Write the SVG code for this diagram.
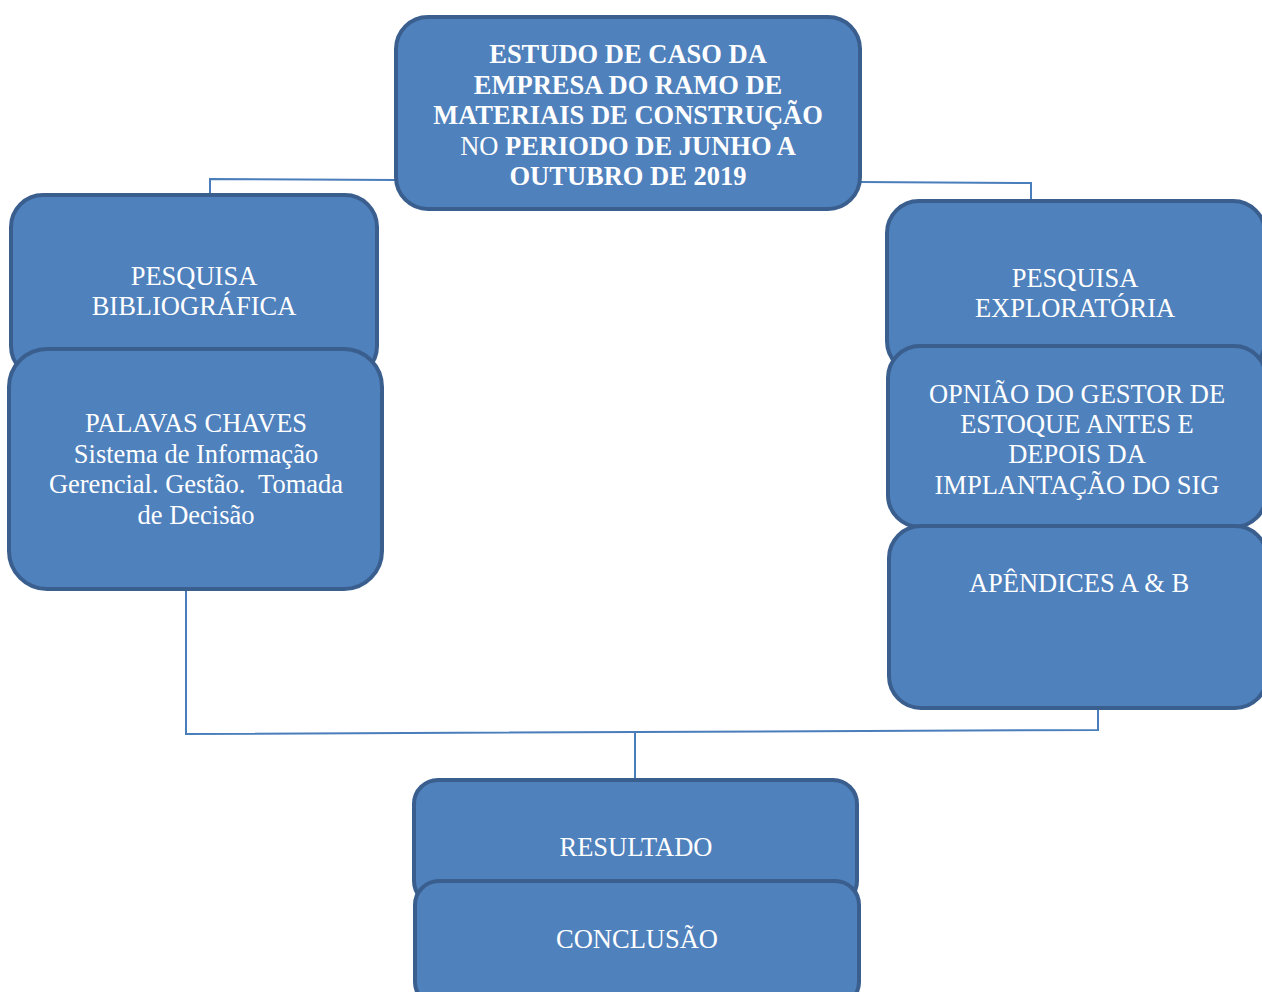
<svg xmlns="http://www.w3.org/2000/svg" width="1262" height="992" viewBox="0 0 1262 992">
<style>
.box{fill:#4F81BD;stroke:#3A5F8E;stroke-width:4}
.conn{fill:none;stroke:#4A7EBB;stroke-width:2}
text{font-family:"Liberation Serif","Times New Roman",serif;font-size:26.5px;fill:#FFFFFF;text-anchor:middle}
.b{font-weight:bold}
</style>
<rect width="1262" height="992" fill="#FFFFFF"/>
<g id="connectors">
<polyline class="conn" points="396,180 210,179 210,194"/>
<polyline class="conn" points="860,182 1031,183 1031,201"/>
<polyline class="conn" points="186,589 186,734 1098,730 1098,708"/>
<line class="conn" x1="635" y1="733" x2="635" y2="780"/>
</g>
<g id="node-estudo">
<rect class="box" x="396" y="17" width="464" height="192" rx="32"/>
<text x="628" y="63" class="b">ESTUDO DE CASO DA</text>
<text x="628" y="93.5" class="b">EMPRESA DO RAMO DE</text>
<text x="628" y="124" class="b">MATERIAIS DE CONSTRUÇÃO</text>
<text x="628" y="155">NO <tspan class="b">PERIODO DE JUNHO A</tspan></text>
<text x="628" y="185" class="b">OUTUBRO DE 2019</text>
</g>
<g id="node-bibliografica">
<rect class="box" x="11" y="195" width="366" height="183" rx="32"/>
<text x="194" y="285">PESQUISA</text>
<text x="194" y="315">BIBLIOGRÁFICA</text>
</g>
<g id="node-palavras">
<rect class="box" x="9" y="349" width="373" height="240" rx="38"/>
<text x="196" y="432">PALAVAS CHAVES</text>
<text x="196" y="463">Sistema de Informação</text>
<text x="196" y="493" xml:space="preserve">Gerencial. Gestão.  Tomada</text>
<text x="196" y="524">de Decisão</text>
</g>
<g id="node-exploratoria">
<rect class="box" x="887" y="201" width="378" height="172" rx="32"/>
<text x="1075" y="287">PESQUISA</text>
<text x="1075" y="317">EXPLORATÓRIA</text>
</g>
<g id="node-opiniao">
<rect class="box" x="888" y="346" width="378" height="181" rx="32"/>
<text x="1077" y="403">OPNIÃO DO GESTOR DE</text>
<text x="1077" y="433">ESTOQUE ANTES E</text>
<text x="1077" y="463">DEPOIS DA</text>
<text x="1077" y="494">IMPLANTAÇÃO DO SIG</text>
</g>
<g id="node-apendices">
<rect class="box" x="889" y="526" width="378" height="182" rx="32"/>
<text x="1079" y="592">APÊNDICES A &amp; B</text>
</g>
<g id="node-resultado">
<rect class="box" x="414" y="780" width="443" height="125" rx="24"/>
<text x="636" y="856">RESULTADO</text>
</g>
<g id="node-conclusao">
<rect class="box" x="415" y="881" width="444" height="125" rx="24"/>
<text x="637" y="948">CONCLUSÃO</text>
</g>
</svg>
